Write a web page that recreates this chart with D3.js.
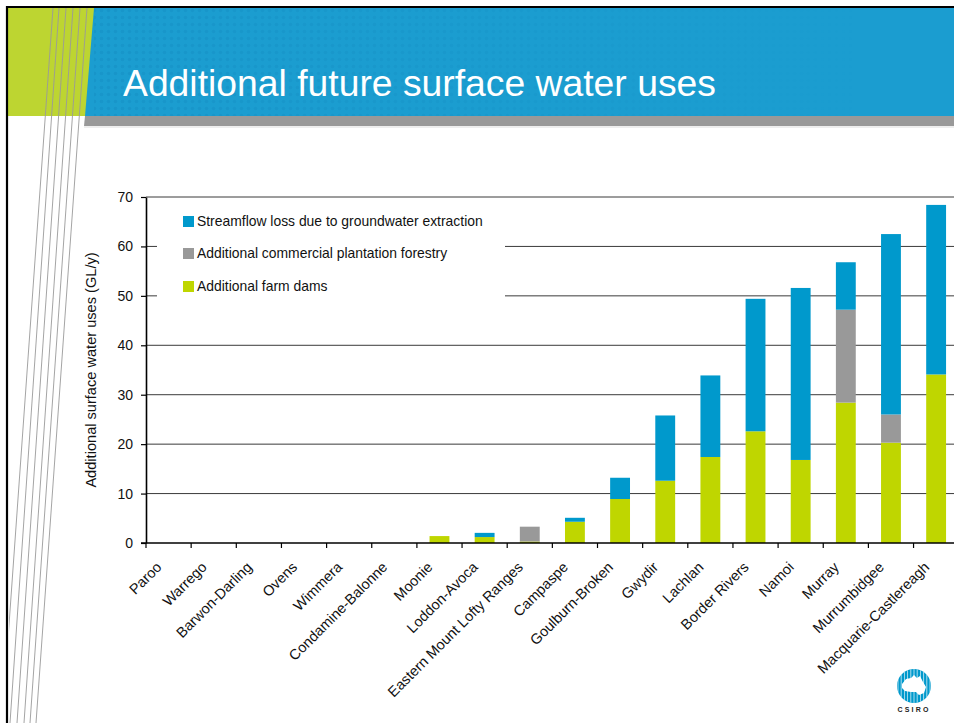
<!DOCTYPE html>
<html><head><meta charset="utf-8">
<script src="https://cdn.jsdelivr.net/npm/d3@7"></script>
<style>
html,body{margin:0;padding:0;background:#fff;}
svg{display:block;font-family:"Liberation Sans",Arial,Helvetica,sans-serif;}
</style></head>
<body>
<svg id="c" width="954" height="723"></svg>
<script>
const categories = ["Paroo","Warrego","Barwon-Darling","Ovens","Wimmera","Condamine-Balonne","Moonie","Loddon-Avoca","Eastern Mount Lofty Ranges","Campaspe","Goulburn-Broken","Gwydir","Lachlan","Border Rivers","Namoi","Murray","Murrumbidgee","Macquarie-Castlereagh"];
const farmDams   = [0,0,0,0,0,0,1.4,1.2,0.3,4.3,8.9,12.6,17.4,22.6,16.8,28.4,20.3,34.1];
const forestry   = [0,0,0,0,0,0,0,0,3.0,0,0,0,0,0,0,18.8,5.7,0];
const streamflow = [0,0,0,0,0,0,0,0.85,0,0.8,4.3,13.2,16.5,26.8,34.8,9.6,36.5,34.3];
const seriesNames = ["Additional farm dams","Additional commercial plantation forestry","Streamflow loss due to groundwater extraction"];
const seriesColors = ["#bfd600","#999999","#0099cc"];
const yTicks = [0,10,20,30,40,50,60,70];
const title = "Additional future surface water uses";
const yTitle = "Additional surface water uses (GL/y)";

const svg = d3.select("#c");

// ---- slide decoration ----
const defs = svg.append("defs");
const pat = defs.append("pattern").attr("id","dots").attr("width",7).attr("height",7).attr("patternUnits","userSpaceOnUse");
pat.append("circle").attr("cx",3.5).attr("cy",3.5).attr("r",1.8).attr("fill","#0a6fa8");
const grad = defs.append("linearGradient").attr("id","fade").attr("x1","0").attr("x2","1").attr("y1","0").attr("y2","0");
grad.append("stop").attr("offset","0").attr("stop-color","#fff").attr("stop-opacity",0.9);
grad.append("stop").attr("offset","1").attr("stop-color","#fff").attr("stop-opacity",0);
const mask = defs.append("mask").attr("id","fm");
mask.append("rect").attr("x",94).attr("y",8).attr("width",780).attr("height",108).attr("fill","url(#fade)");

svg.append("rect").attr("x",8).attr("y",8).attr("width",946).attr("height",108).attr("fill","#1b9dd0");
svg.append("rect").attr("x",94).attr("y",8).attr("width",780).attr("height",108).attr("fill","url(#dots)").attr("opacity",0.18).attr("mask","url(#fm)");
svg.append("path").attr("d","M8,8 L94,8 L85,116 L8,116 Z").attr("fill","#bdd531");
svg.append("path").attr("d","M85,116 L954,116 L954,126 L84,126 Z").attr("fill","#999999");
svg.append("line").attr("x1",84).attr("x2",954).attr("y1",127).attr("y2",127).attr("stroke","#dddddd").attr("stroke-width",1);

const tops = [53,59,66,73,80,87], bots = [2,10,17,24,30,36];
defs.append("clipPath").attr("id","lc").append("rect").attr("x",9).attr("y",8).attr("width",200).attr("height",715);
const lg = svg.append("g").attr("clip-path","url(#lc)");
tops.forEach((t,i)=>{
  lg.append("line").attr("x1",t).attr("y1",8).attr("x2",bots[i]).attr("y2",723)
    .attr("stroke","#9a9a9a").attr("stroke-width",0.9);
});
svg.append("line").attr("x1",7).attr("x2",954).attr("y1",7).attr("y2",7).attr("stroke","#000").attr("stroke-width",2);
svg.append("line").attr("x1",7).attr("x2",7).attr("y1",6).attr("y2",723).attr("stroke","#000").attr("stroke-width",2.2);

svg.append("text").attr("x",123).attr("y",96).attr("fill","#fff").attr("font-size",37.3).text(title);

// ---- chart ----
const x0 = 146, step = 45.15;
const x = d3.scaleBand().domain(categories).range([x0, x0 + step*categories.length]).paddingInner(0.56).paddingOuter(0.28);
const y = d3.scaleLinear().domain([0,70]).range([543,197]);

const g = svg.append("g");
// gridlines
g.selectAll("line.grid").data(yTicks.filter(d=>d>0)).join("line")
  .attr("x1",x0).attr("x2",954).attr("y1",d=>y(d)).attr("y2",d=>y(d))
  .attr("stroke","#3a3a3a").attr("stroke-width",1);

// stacked bars
const rows = categories.map((c,i)=>({cat:c, s0:farmDams[i], s1:forestry[i], s2:streamflow[i]}));
const stack = d3.stack().keys(["s0","s1","s2"])(rows);
g.selectAll("g.layer").data(stack).join("g").attr("fill",(d,i)=>seriesColors[i])
  .selectAll("rect").data(d=>d).join("rect")
  .attr("x",d=>x(d.data.cat)).attr("width",x.bandwidth())
  .attr("y",d=>y(d[1])).attr("height",d=>Math.max(0,y(d[0])-y(d[1])));

// legend box
const leg = g.append("g");
leg.append("rect").attr("x",157).attr("y",200).attr("width",348).attr("height",108).attr("fill","#fff");
const legOrder = [2,1,0];
const legY = [221,253,286];
legOrder.forEach((si,k)=>{
  leg.append("rect").attr("x",183).attr("y",legY[k]-5).attr("width",11).attr("height",11).attr("fill",seriesColors[si]);
  leg.append("text").attr("x",197).attr("y",legY[k]+5).attr("font-size",13.9).attr("fill","#111").text(seriesNames[si]);
});

// y axis
const ya = g.append("g").attr("transform",`translate(${x0},0)`)
  .call(d3.axisLeft(y).tickValues(yTicks).tickSize(5).tickPadding(8).tickSizeOuter(0));
ya.select(".domain").attr("stroke","#000").attr("stroke-width",1.6);
ya.selectAll(".tick line").attr("stroke","#000").attr("stroke-width",1.2);
ya.selectAll(".tick text").attr("font-size",14).attr("fill","#111").attr("font-family","Liberation Sans, Arial, sans-serif");

// x axis
g.append("line").attr("x1",x0-5).attr("x2",954).attr("y1",y(0)).attr("y2",y(0)).attr("stroke","#000").attr("stroke-width",1.6);
const tickPos = categories.map(c=>x(c)+x.bandwidth()/2-step/2);
g.selectAll("line.xt").data(tickPos).join("line")
  .attr("x1",d=>d).attr("x2",d=>d).attr("y1",y(0)).attr("y2",y(0)+5).attr("stroke","#000").attr("stroke-width",1.2);
g.selectAll("text.xl").data(categories).join("text")
  .attr("transform",d=>`translate(${x(d)+x.bandwidth()/2-6},${y(0)+25}) rotate(-45)`)
  .attr("text-anchor","end").attr("font-size",14.5).attr("fill","#111").text(d=>d);

// y title
g.append("text").attr("transform","translate(96,370) rotate(-90)").attr("text-anchor","middle")
  .attr("font-size",14.6).attr("fill","#111").text(yTitle);

// ---- CSIRO logo ----
const lgo = svg.append("g").attr("transform","translate(914,686)");
defs.append("clipPath").attr("id","cc").append("circle").attr("r",17);
lgo.append("circle").attr("r",17).attr("fill","#0099cc");
const inner = lgo.append("g").attr("clip-path","url(#cc)");
inner.append("path").attr("d","M-12,-2 L-8,-7 L-3,-8 L0,-11 L3,-8 L6,-10 L9,-4 L12,1 L10,7 L5,9 L2,6 L-3,6 L-9,5 L-12,2 Z").attr("fill","#fff");
d3.range(-16,17,3.2).forEach(v=>{
  inner.append("line").attr("x1",v).attr("x2",v).attr("y1",-17).attr("y2",17).attr("stroke","#fff").attr("stroke-width",0.8).attr("opacity",0.85);
});
lgo.append("text").attr("y",26).attr("text-anchor","middle").attr("font-size",7).attr("font-weight","bold").attr("letter-spacing",2.2).attr("fill","#222").text("CSIRO");
</script>
</body></html>
